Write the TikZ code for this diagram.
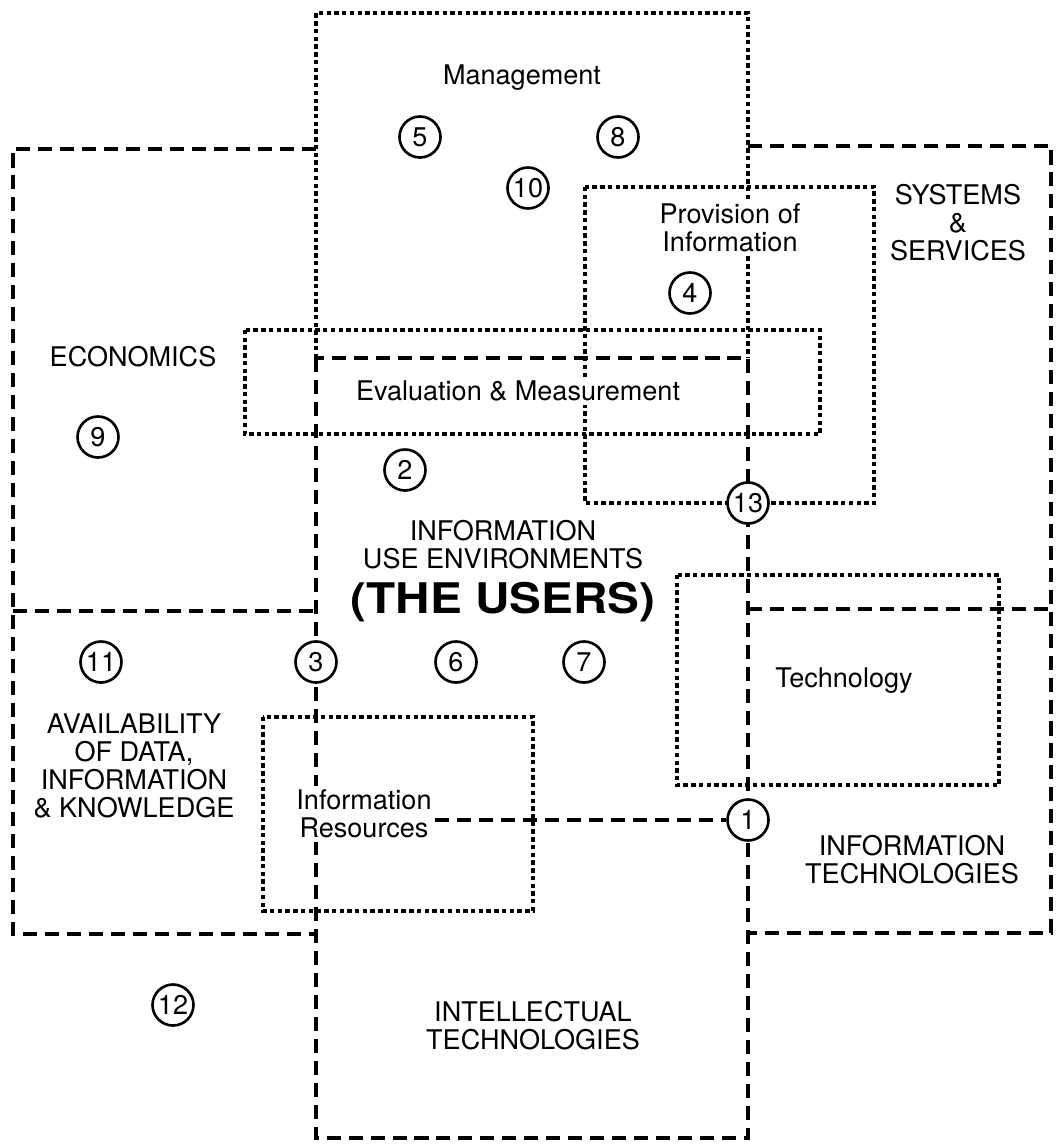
\documentclass[tikz,border=0pt]{standalone}
\usepackage{fontspec}
\setmainfont{TeX Gyre Heros}
\usetikzlibrary{calc}

\begin{document}
\begin{tikzpicture}[
	x=0.02cm, y=-0.02cm,
	zone/.style={line width=2.5pt, dash pattern=on 8pt off 4.5pt},
	topic/.style={line width=2.5pt, dash pattern=on 2.5pt off 1.9pt},
	txt/.style={fill=white, align=center, inner sep=2pt, font=\fontsize{15.4}{16}\selectfont},
	num/.style={circle, draw, line width=1.5pt, fill=white, minimum size=0.82cm, inner sep=0pt, font=\fontsize{15.4}{16}\selectfont}
]
\useasboundingbox (0,0) rectangle (1055,1146);

% dashed zones
\draw[zone] (316,358) rectangle (748,1138);
\draw[zone] (316,149) -- (13,149) -- (13,934) -- (316,934);
\draw[zone] (13,611) -- (316,611);
\draw[zone] (748,146) -- (1051,146) -- (1051,933) -- (748,933);
\draw[zone] (748,609) -- (1051,609);

% dotted topics
\draw[topic] (316,358) -- (316,13) -- (748,13) -- (748,358);
\draw[topic] (245,330) rectangle (820,434);
\draw[topic] (585,187) rectangle (874,503);
\draw[topic] (677,575) rectangle (999,785);
\draw[topic] (263,717) rectangle (533,911);

\node[txt] (mgmt) at (522,78) {Management};
\node[txt] (prov) at (730,228) {Provision of\\Information};
\node[txt] (eval) at (518,391) {Evaluation \& Measurement};
\node[txt] (econ) at (133,357) {ECONOMICS};
\node[txt] (sys) at (958,223) {SYSTEMS\\\&\\SERVICES};
\node[txt] (iue) at (503,545) {INFORMATION\\USE ENVIRONMENTS};
\node[txt, font=\bfseries\fontsize{24}{26}\selectfont] (users) at (503,602) {\scalebox{1.13}[1]{(THE USERS)}};
\node[txt] (avail) at (134,766) {AVAILABILITY\\OF DATA,\\INFORMATION\\\& KNOWLEDGE};
\node[txt] (res) at (364,814) {Information\\Resources};
\node[txt] (tech) at (844,681) {Technology};
\node[txt] (itech) at (912,860) {INFORMATION\\TECHNOLOGIES};
\node[txt] (intech) at (533,1026) {INTELLECTUAL\\TECHNOLOGIES};

\node[num] (n1) at (748,820) {1};
\node[num] (n2) at (405,470) {2};
\node[num] (n3) at (316,662) {3};
\node[num] (n4) at (690,293) {4};
\node[num] (n5) at (420,137) {5};
\node[num] (n6) at (456,662) {6};
\node[num] (n7) at (584,662) {7};
\node[num] (n8) at (618,137) {8};
\node[num] (n9) at (98,437) {9};
\node[num] (n10) at (528,188) {10};
\node[num] (n11) at (101,662) {11};
\node[num] (n12) at (173,1005) {12};
\node[num] (n13) at (748,503) {13};

\draw[zone] (res.east |- n1) -- (n1);
\end{tikzpicture}
\end{document}
